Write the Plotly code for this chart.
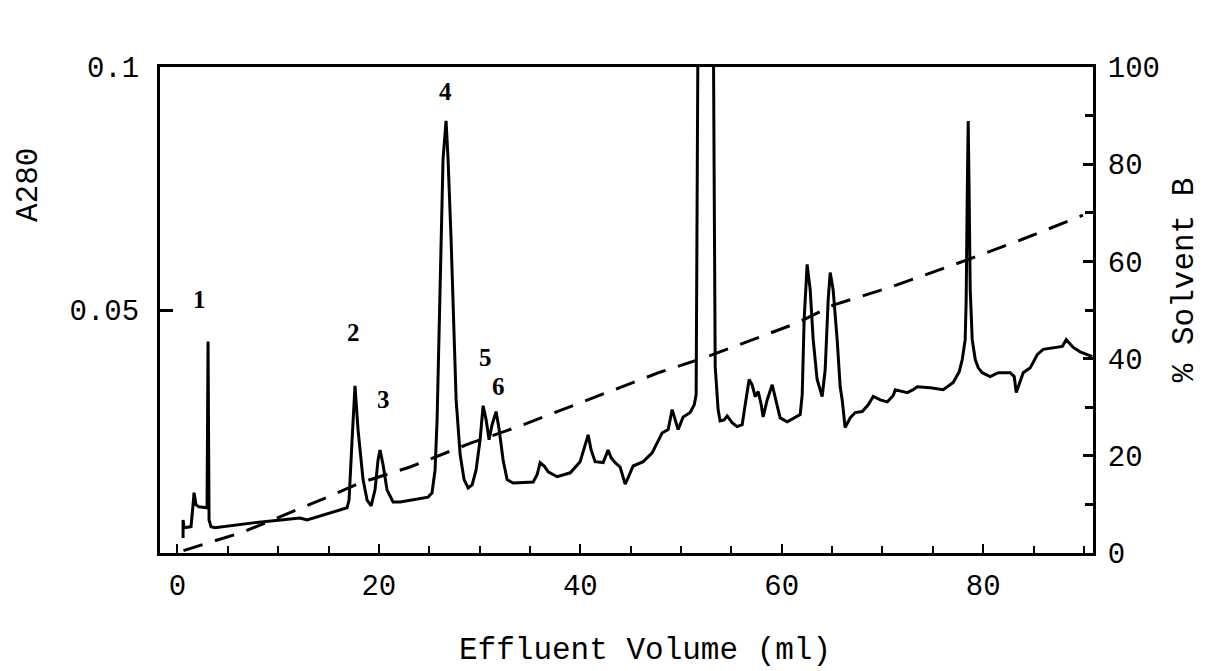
import plotly.graph_objects as go

# Chromatogram (A280) vs effluent volume (ml)
volume_ml = [0.56, 0.56, 0.66, 1.35, 1.55, 1.65, 1.85, 2.14, 2.94, 3.04, 3.14, 3.34, 3.73, 7.51, 12.17, 12.87,
             16.84, 17.04, 17.34, 17.63, 17.93, 18.43, 18.83, 19.23, 19.62, 19.92, 20.12, 20.42, 20.81, 21.41,
             22.11, 24.89, 25.28, 25.58, 25.78, 25.98, 26.17, 26.37, 26.67, 26.87, 27.17, 27.47, 27.67, 28.07,
             28.46, 28.86, 29.26, 29.65, 30.05, 30.35, 30.65, 30.94, 31.24, 31.64, 31.94, 32.33, 32.73, 33.33,
             35.32, 35.71, 36.01, 36.41, 36.81, 37.70, 39.00, 39.98, 40.48, 40.78, 41.07, 41.47, 42.27, 42.56,
             42.76, 43.06, 43.46, 43.95, 44.45, 44.75, 45.24, 46.24, 47.13, 48.12, 48.72, 49.12, 49.71, 50.21,
             50.91, 51.31, 51.50, 51.70, 53.19, 53.39, 53.68, 53.88, 54.28, 54.58, 55.07, 55.57, 56.07, 56.37,
             56.76, 57.06, 57.36, 57.66, 57.96, 58.15, 58.55, 59.05, 59.44, 59.84, 60.54, 61.33, 61.83, 62.03,
             62.22, 62.52, 62.82, 63.12, 63.51, 64.01, 64.31, 64.61, 64.81, 65.10, 65.50, 65.80, 66.00, 66.29,
             66.79, 67.29, 67.99, 68.58, 69.08, 69.78, 70.48, 71.07, 71.27, 72.46, 73.05, 73.45, 74.74, 76.03,
             77.02, 77.62, 77.92, 78.21, 78.31, 78.41, 78.51, 78.61, 78.71, 78.91, 79.21, 79.51, 79.90, 80.70,
             81.49, 82.68, 83.08, 83.28, 83.58, 83.97, 84.67, 85.36, 85.96, 87.35, 87.85, 88.24, 88.94, 89.63,
             90.43, 90.83]
a280 = [0.0031, 0.0068, 0.0052, 0.0054, 0.0099, 0.0124, 0.0099, 0.0095, 0.0093, 0.0435, 0.0068, 0.0054, 0.0052,
        0.0062, 0.0072, 0.0068, 0.0093, 0.0109, 0.0233, 0.0344, 0.0254, 0.0151, 0.0109, 0.0097, 0.0130, 0.0192,
        0.0212, 0.0181, 0.0130, 0.0105, 0.0105, 0.0115, 0.0124, 0.0171, 0.0274, 0.0454, 0.0645, 0.0810, 0.0889,
        0.0810, 0.0645, 0.0454, 0.0315, 0.0202, 0.0151, 0.0134, 0.0140, 0.0171, 0.0233, 0.0303, 0.0274, 0.0233,
        0.0264, 0.0291, 0.0254, 0.0192, 0.0151, 0.0144, 0.0146, 0.0161, 0.0186, 0.0179, 0.0167, 0.0157, 0.0165,
        0.0188, 0.0223, 0.0243, 0.0212, 0.0188, 0.0186, 0.0202, 0.0212, 0.0196, 0.0186, 0.0177, 0.0142, 0.0155,
        0.0179, 0.0188, 0.0206, 0.0247, 0.0254, 0.0295, 0.0254, 0.0280, 0.0289, 0.0305, 0.0326, 0.1150, 0.1150,
        0.0384, 0.0295, 0.0272, 0.0274, 0.0282, 0.0268, 0.0260, 0.0264, 0.0305, 0.0357, 0.0346, 0.0322, 0.0332,
        0.0305, 0.0280, 0.0315, 0.0346, 0.0315, 0.0278, 0.0270, 0.0280, 0.0285, 0.0326, 0.0480, 0.0594, 0.0542,
        0.0439, 0.0357, 0.0322, 0.0377, 0.0522, 0.0577, 0.0542, 0.0439, 0.0342, 0.0315, 0.0258, 0.0278, 0.0289,
        0.0291, 0.0305, 0.0322, 0.0315, 0.0311, 0.0324, 0.0336, 0.0330, 0.0336, 0.0342, 0.0340, 0.0336, 0.0351,
        0.0373, 0.0398, 0.0439, 0.0522, 0.0728, 0.0889, 0.0728, 0.0542, 0.0439, 0.0398, 0.0381, 0.0371, 0.0363,
        0.0371, 0.0371, 0.0363, 0.0330, 0.0346, 0.0371, 0.0381, 0.0408, 0.0419, 0.0423, 0.0425, 0.0439, 0.0423,
        0.0414, 0.0408, 0.0404]

# Solvent B gradient (%)
gradient_ml = [0.6, 6.5, 14.9, 18.1, 23.1, 29.1, 33.7, 40.7, 47.9, 52.2, 61.5, 65.1, 70.8, 78.4, 83.7, 89.9]
solvent_b = [0.5, 4.3, 11.5, 14.4, 17.7, 22.6, 25.9, 31.5, 37.2, 40.1, 47.3, 51.0, 54.7, 60.3, 64.4, 69.5]

# Peak labels
peak_names = ["1", "2", "3", "4", "5", "6", "12"]
peak_x = [2.24, 17.44, 20.42, 26.57, 30.55, 31.84, 52.2]
peak_y = [0.0522, 0.0454, 0.0315, 0.0950, 0.0402, 0.0342, 0.1082]

x_ticks = [0, 20, 40, 60, 80]
left_ticks = [0.05, 0.1]
left_ticktext = ["0.05", "0.1"]
right_ticks = [0, 20, 40, 60, 80, 100]

mono = "Liberation Mono"

fig = go.Figure()
fig.add_trace(go.Scatter(x=volume_ml, y=a280, mode="lines",
                         line=dict(color="black", width=3), showlegend=False))
fig.add_trace(go.Scatter(x=gradient_ml, y=solvent_b, mode="lines", yaxis="y2",
                         line=dict(color="black", width=3, dash="20px,13px"), showlegend=False))

for name, px_, py_ in zip(peak_names, peak_x, peak_y):
    fig.add_annotation(x=px_, y=py_, text=name, showarrow=False, xref="x", yref="y",
                       xanchor="center", yanchor="middle",
                       font=dict(family="Liberation Serif", size=25, color="black", weight="bold"))

fig.add_annotation(text="A280", xref="paper", yref="paper", x=-0.1415, y=0.757, showarrow=False,
                   xanchor="center", yanchor="middle",
                   textangle=-90, font=dict(family=mono, size=31, color="black"))
fig.add_annotation(text="% Solvent B", xref="paper", yref="paper", x=1.099, y=0.562, showarrow=False,
                   xanchor="center", yanchor="middle",
                   textangle=-90, font=dict(family=mono, size=31, color="black"))
fig.add_annotation(text="Effluent Volume (ml)", xref="paper", yref="paper", x=0.52, y=-0.2,
                   xanchor="center", yanchor="middle",
                   showarrow=False, font=dict(family=mono, size=31, color="black"))

fig.update_layout(
    width=1207, height=671,
    margin=dict(l=160, r=114, t=67, b=118),
    paper_bgcolor="white", plot_bgcolor="white",
    font=dict(family=mono, color="black"),
    xaxis=dict(range=[-1.73, 90.9], tickvals=x_ticks, ticks="inside", ticklen=9, tickwidth=2,
               tickcolor="black", showline=True, linewidth=3, linecolor="black", mirror=True,
               showgrid=False, zeroline=False, tickfont=dict(family=mono, size=29, color="black"),
               ticklabelstandoff=4,
               minor=dict(dtick=5, tick0=0, ticks="inside", ticklen=7, tickwidth=2, tickcolor="black",
                          showgrid=False)),
    yaxis=dict(range=[0, 0.1], tickvals=left_ticks, ticktext=left_ticktext, ticks="inside", ticklen=13,
               tickwidth=3, tickcolor="black", showline=True, linewidth=3, linecolor="black", mirror=True,
               showgrid=False, zeroline=False, tickfont=dict(family=mono, size=29, color="black"),
               ticklabelstandoff=12),
    yaxis2=dict(range=[0, 100], overlaying="y", side="right", tickvals=right_ticks, ticks="inside",
                ticklen=10, tickwidth=3, tickcolor="black", showline=True, linewidth=3, linecolor="black",
                showgrid=False, zeroline=False, tickfont=dict(family=mono, size=29, color="black"),
                ticklabelstandoff=6,
                minor=dict(dtick=10, tick0=0, ticks="inside", ticklen=8, tickwidth=3, tickcolor="black",
                           showgrid=False)),
)

fig.write_html("out.html")
